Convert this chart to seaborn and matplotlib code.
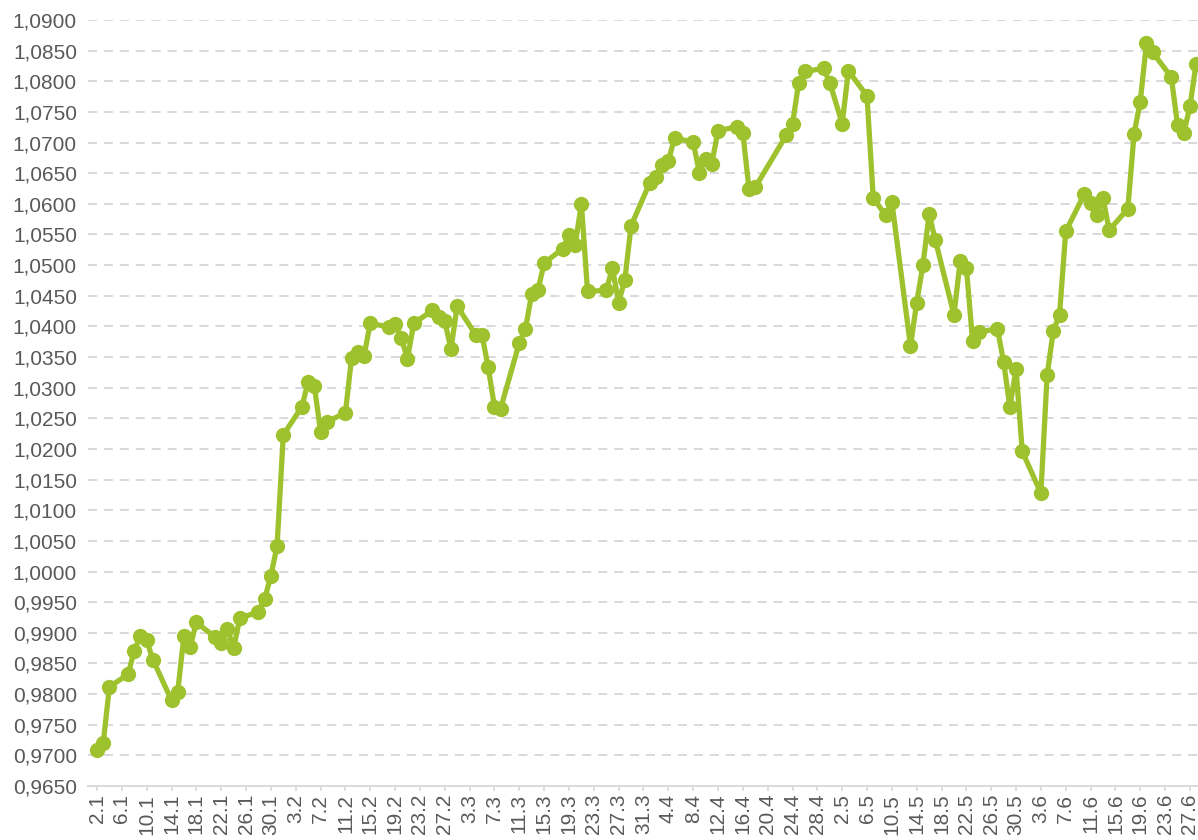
import pandas as pd
import matplotlib
matplotlib.use('Agg')
import matplotlib.pyplot as plt
import matplotlib.ticker as mticker
import seaborn as sns

# trading days 2019 (weekdays without these holidays)
start, end = '2019-01-02', '2019-06-28'
holidays = ['2019-04-19', '2019-04-22', '2019-05-01', '2019-05-08']

jan = [0.9709, 0.9720, 0.9812, 0.9832, 0.9871, 0.9895, 0.9888, 0.9856, 0.9790, 0.9804, 0.9895,
       0.9877, 0.9917, 0.9893, 0.9883, 0.9906, 0.9875, 0.9924, 0.9934, 0.9955, 0.9993, 1.0042]
feb = [1.0223, 1.0269, 1.0310, 1.0303, 1.0228, 1.0244, 1.0259, 1.0349, 1.0359, 1.0352,
       1.0405, 1.0399, 1.0404, 1.0381, 1.0347, 1.0405, 1.0426, 1.0415, 1.0409, 1.0363]
mar = [1.0433, 1.0386, 1.0386, 1.0333, 1.0269, 1.0266, 1.0373, 1.0396, 1.0453, 1.0459, 1.0503,
       1.0527, 1.0549, 1.0533, 1.0600, 1.0457, 1.0459, 1.0495, 1.0439, 1.0476, 1.0564]
apr = [1.0634, 1.0643, 1.0663, 1.0670, 1.0707, 1.0701, 1.0651, 1.0673, 1.0665, 1.0719,
       1.0726, 1.0716, 1.0624, 1.0627, 1.0712, 1.0730, 1.0798, 1.0816, 1.0821, 1.0798]
may = [1.0731, 1.0817, 1.0776, 1.0610, 1.0581, 1.0603, 1.0368, 1.0439, 1.0500, 1.0583, 1.0541,
       1.0419, 1.0506, 1.0496, 1.0376, 1.0391, 1.0396, 1.0342, 1.0269, 1.0330, 1.0196]
jun = [1.0128, 1.0320, 1.0393, 1.0419, 1.0555, 1.0616, 1.0601, 1.0582, 1.0609, 1.0557,
       1.0592, 1.0714, 1.0767, 1.0862, 1.0847, 1.0807, 1.0729, 1.0715, 1.0759, 1.0829]

dates = pd.bdate_range(start, end).drop(pd.to_datetime(holidays))
df = pd.DataFrame({'date': dates, 'value': jan + feb + mar + apr + may + jun})

green = '#9DC22D'
grey_txt = '#595959'
grey_line = '#D9D9D9'

sns.set_theme(style='white')
plt.rcParams['font.family'] = ['Liberation Sans', 'DejaVu Sans']

fig = plt.figure(figsize=(11.98, 8.4), dpi=100)
ax = fig.add_axes([88 / 1198, 54 / 840, 1 - 88 / 1198, 766 / 840])

sns.lineplot(data=df, x='date', y='value', ax=ax, color=green, linewidth=3.8,
             marker='o', markersize=11, markeredgewidth=0)

ax.set_ylim(0.965, 1.09)
ax.yaxis.set_major_locator(mticker.MultipleLocator(0.005))
ax.yaxis.set_major_formatter(mticker.FuncFormatter(lambda v, p: f'{v:.4f}'.replace('.', ',')))

d0 = pd.Timestamp(start)
ax.set_xlim(d0 - pd.Timedelta(days=1.45), d0 + pd.Timedelta(days=177.3))
ticks = pd.date_range(start, end, freq='4D')
ax.set_xticks(ticks)
ax.set_xticklabels([f'{d.day}.{d.month}' for d in ticks], rotation=90)

ax.grid(axis='y', color=grey_line, linestyle=(0, (4.6, 3.6)), linewidth=1.4)
ax.set_axisbelow(True)
for s in ['top', 'right', 'left']:
    ax.spines[s].set_visible(False)
ax.spines['bottom'].set_color(grey_line)
ax.spines['bottom'].set_linewidth(1.4)

ax.tick_params(axis='x', bottom=True, length=3.6, width=1.2, color=grey_line, pad=2,
               labelsize=15, labelcolor=grey_txt)
ax.tick_params(axis='y', left=False, length=0, pad=8, labelsize=15, labelcolor=grey_txt)
ax.set_xlabel('')
ax.set_ylabel('')

fig.savefig('out.png', dpi=100)
